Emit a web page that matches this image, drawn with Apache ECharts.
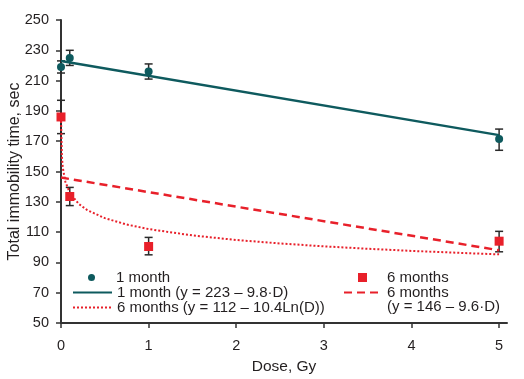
<!DOCTYPE html>
<html>
<head>
<meta charset="utf-8">
<script src="https://cdn.jsdelivr.net/npm/echarts@6/dist/echarts.min.js"></script>
<style>html,body{margin:0;padding:0;background:#fff}#c{width:524px;height:379px}</style>
</head>
<body>
<div id="c"></div>
<script>
// ---- data ----
var xTicks = [0, 1, 2, 3, 4, 5];
var oneMonthDose = [0, 0.1, 1, 5];
var oneMonthMean = [219, 225, 216, 171.5];
var oneMonthLow  = [215, 220, 211, 164];
var oneMonthHigh = [223, 230, 221, 178];
var sixMonthDose = [0, 0.1, 1, 5];
var sixMonthMean = [186, 133.5, 100.5, 104];
var sixMonthLow  = [175, 127.5, 95, 97];
var sixMonthHigh = [197, 139.5, 106.5, 110.5];
var oneMonthFitDose = [0, 5];
var oneMonthFitVal  = [223, 174];
var sixMonthLinDose = [0, 5];
var sixMonthLinVal  = [146, 98];
var sixMonthLogDose = [0, 0.01, 0.02, 0.05, 0.1, 0.2, 0.3, 0.5, 0.75, 1, 1.5, 2, 2.5, 3, 3.5, 4, 4.5, 5];
var sixMonthLogVal  = [186, 160, 152.7, 143.2, 136, 128.7, 124.5, 119.2, 115, 112, 107.8, 104.8, 102.5, 100.6, 99, 97.6, 96.4, 95.3];
var names = {
  m1: '1 month',
  m1fit: '1 month (y = 223 \u2013 9.8\u00b7D)',
  m6log: '6 months (y = 112 \u2013 10.4Ln(D))',
  m6: '6 months',
  m6lin: '6 months '
};

var TEAL = '#0e5a5e', RED = '#e8202a', AX = '#333333', TXT = '#231f20';
var FONT = '"Liberation Sans", Arial, sans-serif';

function zip(a, b) { return a.map(function (v, i) { return [v, b[i]]; }); }
function zip3(a, b, c) { return a.map(function (v, i) { return [v, b[i], c[i]]; }); }

function errRender(params, api) {
  var x = api.value(0), lo = api.value(1), hi = api.value(2);
  var p1 = api.coord([x, hi]), p2 = api.coord([x, lo]);
  var w = 4;
  var st = { stroke: '#2a2a2a', lineWidth: 1.5 };
  return {
    type: 'group',
    children: [
      { type: 'line', shape: { x1: p1[0], y1: p1[1], x2: p2[0], y2: p2[1] }, style: st },
      { type: 'line', shape: { x1: p1[0] - w, y1: p1[1], x2: p1[0] + w, y2: p1[1] }, style: st },
      { type: 'line', shape: { x1: p2[0] - w, y1: p2[1], x2: p2[0] + w, y2: p2[1] }, style: st }
    ]
  };
}

var legendText = { fontSize: 15, color: TXT, fontFamily: FONT, lineHeight: 15 };
var CIRCLE = 'path://M0,5a5,5 0 1,0 10,0a5,5 0 1,0 -10,0z';
var SQUARE = 'path://M0,0h10v10h-10z';

var option = {
  animation: false,
  backgroundColor: '#fff',
  textStyle: { fontFamily: FONT },
  grid: { left: 61, right: 17, top: 20, bottom: 56, containLabel: false, outerBoundsMode: 'none' },
  xAxis: {
    type: 'value', min: 0, max: 5.09,
    name: 'Dose, Gy', nameLocation: 'middle', nameGap: 36, nameMoveOverlap: false,
    nameTextStyle: { fontSize: 15.5, color: TXT, fontFamily: FONT },
    splitLine: { show: false },
    axisLine: { onZero: false, lineStyle: { color: AX, width: 2 } },
    axisTick: { show: true, inside: false, length: 5, customValues: xTicks, lineStyle: { color: AX, width: 1.5 } },
    axisLabel: { customValues: xTicks, margin: 15, fontSize: 14.5, color: TXT, fontFamily: FONT }
  },
  yAxis: {
    type: 'value', min: 50, max: 250, interval: 20,
    name: 'Total immobility time, sec', nameLocation: 'middle', nameGap: 38, nameMoveOverlap: false,
    nameTextStyle: { fontSize: 16, color: TXT, fontFamily: FONT },
    splitLine: { show: false },
    axisLine: { show: true, onZero: false, lineStyle: { color: AX, width: 2 } },
    axisTick: { show: true, inside: false, length: 5, lineStyle: { color: AX, width: 1.5 } },
    axisLabel: { margin: 12, fontSize: 14.5, color: TXT, fontFamily: FONT }
  },
  legend: [
    { data: [{ name: names.m1, icon: CIRCLE }], left: 88, top: 270, orient: 'vertical', padding: 0, itemWidth: 39, itemHeight: 7, itemGap: 0, textStyle: legendText },
    { data: [names.m1fit, names.m6log], left: 72, top: 285, orient: 'vertical', padding: 0, itemWidth: 39, itemHeight: 14, itemGap: 0, textStyle: legendText,
      itemStyle: { opacity: 0 } },
    { data: [{ name: names.m6, icon: SQUARE }], left: 358, top: 270, orient: 'vertical', padding: 0, itemWidth: 39, itemHeight: 9, itemGap: 0, textStyle: legendText },
    { data: [{ name: names.m6lin }], left: 343, top: 285, orient: 'vertical', padding: 0, itemWidth: 38, itemHeight: 14, itemGap: 0, textStyle: legendText,
      itemStyle: { opacity: 0 },
      formatter: function () { return '6 months'; } }
  ],
  graphic: [
    { type: 'text', left: 387, top: 299, style: { text: '(y = 146 \u2013 9.6\u00b7D)', fontSize: 15, fill: TXT, fontFamily: FONT } }
  ],
  series: [
    { type: 'custom', name: 'err1', renderItem: errRender, data: zip3(oneMonthDose, oneMonthLow, oneMonthHigh), encode: { x: 0, y: [1, 2] }, z: 1 },
    { type: 'custom', name: 'err6', renderItem: errRender, data: zip3(sixMonthDose, sixMonthLow, sixMonthHigh), encode: { x: 0, y: [1, 2] }, z: 1 },
    { type: 'line', name: names.m1fit, data: zip(oneMonthFitDose, oneMonthFitVal), symbol: 'none', color: TEAL,
      lineStyle: { color: TEAL, width: 2.5 }, z: 2 },
    { type: 'line', name: names.m6log, data: zip(sixMonthLogDose, sixMonthLogVal), symbol: 'none', color: RED,
      lineStyle: { color: RED, width: 2, type: [2, 2] }, z: 2 },
    { type: 'line', name: names.m6lin, data: zip(sixMonthLinDose, sixMonthLinVal), symbol: 'none', color: RED,
      lineStyle: { color: RED, width: 2.5, type: [8, 5] }, z: 2 },
    { type: 'scatter', name: names.m1, data: zip(oneMonthDose, oneMonthMean), symbol: 'circle', symbolSize: 8,
      itemStyle: { color: TEAL, opacity: 1 }, z: 3 },
    { type: 'scatter', name: names.m6, data: zip(sixMonthDose, sixMonthMean), symbol: 'rect', symbolSize: 9,
      itemStyle: { color: RED, opacity: 1 }, z: 3 }
  ]
};
var chart = echarts.init(document.getElementById('c'), null, { renderer: 'canvas' });
chart.setOption(option);
</script>
</body>
</html>
